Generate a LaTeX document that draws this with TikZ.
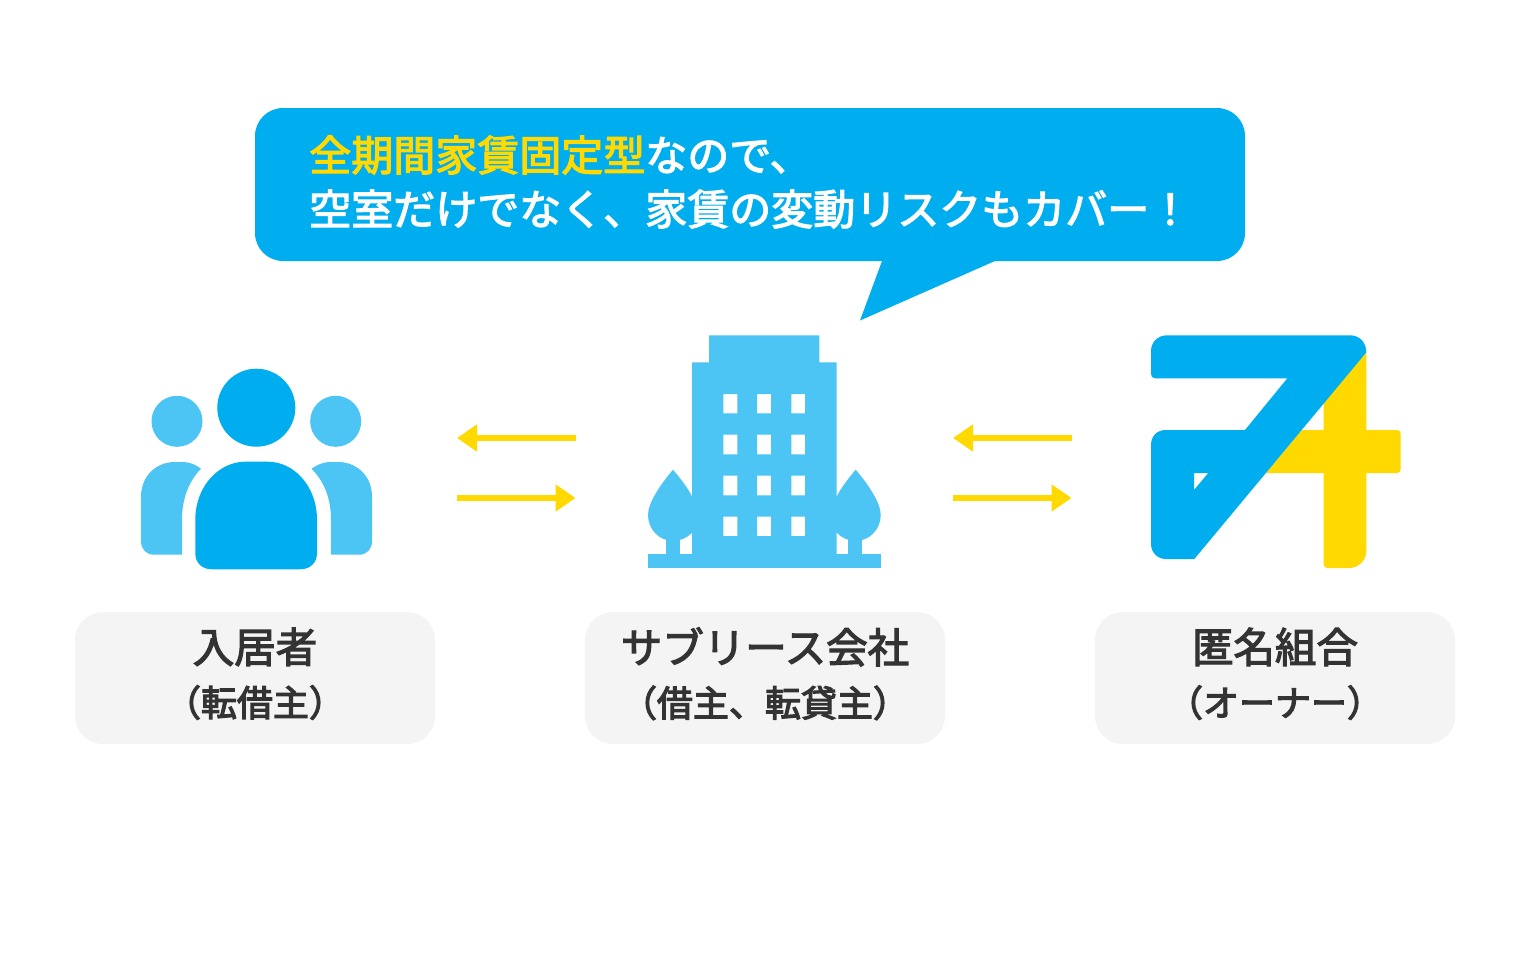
\documentclass[tikz,border=0pt]{standalone}
\usepackage{fontspec}
\setmainfont{Noto Sans CJK JP}
\usetikzlibrary{arrows.meta}
\definecolor{mainblue}{HTML}{00AEEF}
\definecolor{lightblue}{HTML}{4CC4F4}
\definecolor{mainyellow}{HTML}{FFD900}
\definecolor{inktext}{HTML}{333333}
\definecolor{boxgrey}{HTML}{F4F4F4}
\newcommand{\heavier}{\special{pdf:code 2 Tr 0.9 w}}
\newcommand{\plainagain}{\special{pdf:code 0 Tr}}
\tikzset{
  labelbox/.style={fill=boxgrey,rounded corners=21pt,minimum width=270pt,minimum height=99pt,align=center,text=inktext,inner sep=0pt},
  flow/.style={draw=mainyellow,line width=4.5pt,-{Triangle[length=15pt,width=19.5pt]}},
}
\newcommand{\bigline}[1]{{\fontsize{31.1pt}{36pt}\selectfont\heavier #1}}
\newcommand{\smallline}[1]{{\fontsize{27pt}{32pt}\selectfont\heavier #1\plainagain\rule[-9pt]{0pt}{9pt}}}
\begin{document}
\begin{tikzpicture}[x=0.75pt,y=-0.75pt]
\useasboundingbox (0,0) rectangle (1530,960);
\fill[white] (0,0) rectangle (1530,960);

% speech bubble
\fill[mainblue,rounded corners=21pt] (255,108) -- (1245,108) -- (1245,261) -- (255,261) -- cycle;
\fill[mainblue] (882.4,260) -- (860,320.5) -- (997.2,260) -- cycle;
\node[anchor=west,align=left,inner sep=0pt,text=white,font=\fontsize{31.5pt}{40.5pt}\selectfont] (msg) at (309,182)
  {\heavier\textcolor{mainyellow}{全期間家賃固定型}なので、\\\heavier 空室だけでなく、家賃の変動リスクもカバー！\plainagain};

% tenants icon
\fill[lightblue] (177,421.3) circle[radius=25.5];
\fill[lightblue] (335.7,421.3) circle[radius=25.5];
\fill[mainblue] (256.3,407.7) circle[radius=39];
\fill[mainblue] (195.3,520) .. controls (195.3,485) and (220,461.7) .. (245,461.7) -- (268,461.7)
  .. controls (293,461.7) and (317,485) .. (317,520) -- (317,553)
  .. controls (317,563) and (310,569.3) .. (300,569.3) -- (212,569.3)
  .. controls (202,569.3) and (195.3,563) .. (195.3,553) -- cycle;
\fill[lightblue] (141,497) .. controls (141,475) and (157,462) .. (175,462) -- (183,462)
  .. controls (190,462) and (196,465) .. (201,468.7)
  .. controls (188,482) and (182,500) .. (182,520) -- (182,554.7) -- (154,554.7)
  .. controls (146,554.7) and (141,549) .. (141,541) -- cycle;
\fill[lightblue] (372,497) .. controls (372,475) and (356,462) .. (338,462) -- (330,462)
  .. controls (323,462) and (317,465) .. (311.5,468.7)
  .. controls (325,482) and (331,500) .. (331,520) -- (331,554.7) -- (359,554.7)
  .. controls (367,554.7) and (372,549) .. (372,541) -- cycle;

% building icon
\fill[lightblue] (648,554.3) rectangle (880.7,568.3);
\fill[lightblue] (666,535) rectangle (680,555);
\fill[lightblue] (848.3,535) rectangle (862,555);
\fill[lightblue] (673,469.7) .. controls (660,485) and (648,503) .. (648,515)
  .. controls (648,530) and (660,541) .. (673,541)
  .. controls (680,541) and (687,538) .. (692,532.7) -- (700,532.7) -- (700,496.7) -- (692,496.7)
  .. controls (688,488) and (680,478) .. (673,469.7) -- cycle;
\fill[lightblue] (855.7,469.7) .. controls (868.7,485) and (880.7,503) .. (880.7,515)
  .. controls (880.7,530) and (868.7,541) .. (855.7,541)
  .. controls (848.7,541) and (841.7,538) .. (836.7,532.7) -- (828,532.7) -- (828,496.7) -- (836.7,496.7)
  .. controls (840.7,488) and (848.7,478) .. (855.7,469.7) -- cycle;
\fill[lightblue,even odd rule]
  (709,335.3) -- (819.3,335.3) -- (819.3,362.3) -- (836.7,362.3) -- (836.7,556) -- (692,556) -- (692,362.3) -- (709,362.3) -- cycle
  (723.3,394) rectangle (737.3,413.3) (757,394) rectangle (771,413.3) (791.3,394) rectangle (805,413.3)
  (723.3,434.7) rectangle (737.3,454.3) (757,434.7) rectangle (771,454.3) (791.3,434.7) rectangle (805,454.3)
  (723.3,475.7) rectangle (737.3,495.3) (757,475.7) rectangle (771,495.3) (791.3,475.7) rectangle (805,495.3)
  (723.3,516.7) rectangle (737.3,536) (757,516.7) rectangle (771,536) (791.3,516.7) rectangle (805,536);

% logo icon: yellow part
\fill[mainyellow] (1366.3,352.3) -- (1323.7,401) -- (1323.7,430) -- (1301.7,430) -- (1265.7,473) -- (1323.7,473)
  -- (1323.7,564) .. controls (1323.7,566.5) and (1325,568) .. (1327.5,568) -- (1349,568)
  .. controls (1359,568) and (1366.3,560) .. (1366.3,551) -- (1366.3,473) -- (1397,473)
  .. controls (1399.5,473) and (1400.7,471.5) .. (1400.7,469) -- (1400.7,434)
  .. controls (1400.7,431.5) and (1399.5,430) .. (1397,430) -- (1366.3,430) -- cycle;
% logo icon: blue part
\fill[mainblue,even odd rule] (1167,335.3) -- (1350,335.3)
  .. controls (1360,335.3) and (1366.3,343) .. (1366.3,352.3)
  -- (1194.3,559) -- (1166,559)
  .. controls (1157,559) and (1151,552) .. (1151,544) -- (1151,445)
  .. controls (1151,436) and (1157,430) .. (1166,430) -- (1245,430) -- (1287.3,378.3) -- (1155,378.3)
  .. controls (1152.5,378.3) and (1151,376.5) .. (1151,374) -- (1151,351)
  .. controls (1151,342) and (1158,335.3) .. (1167,335.3) -- cycle
  (1194,473) -- (1208.3,473) -- (1194,490) -- cycle;

% arrow end points
\coordinate (a1s) at (576,438); \coordinate (a1e) at (457,438);
\coordinate (a2s) at (457,498); \coordinate (a2e) at (575.5,498);
\coordinate (b1s) at (1072,438); \coordinate (b1e) at (953,438);
\coordinate (b2s) at (953,498); \coordinate (b2e) at (1071.5,498);
\draw[flow] (a1s) -- (a1e);
\draw[flow] (a2s) -- (a2e);
\draw[flow] (b1s) -- (b1e);
\draw[flow] (b2s) -- (b2e);

% labels
\node[labelbox] (tenant) at (255,678) {\bigline{入居者}\\[13.5pt]\smallline{（転借主）}};
\node[labelbox] (sublease) at (765,678) {\bigline{サブリース会社}\\[13.5pt]\smallline{（借主、転貸主）}};
\node[labelbox] (owner) at (1275,678) {\bigline{匿名組合}\\[13.5pt]\smallline{（オーナー）}};
\end{tikzpicture}
\end{document}
